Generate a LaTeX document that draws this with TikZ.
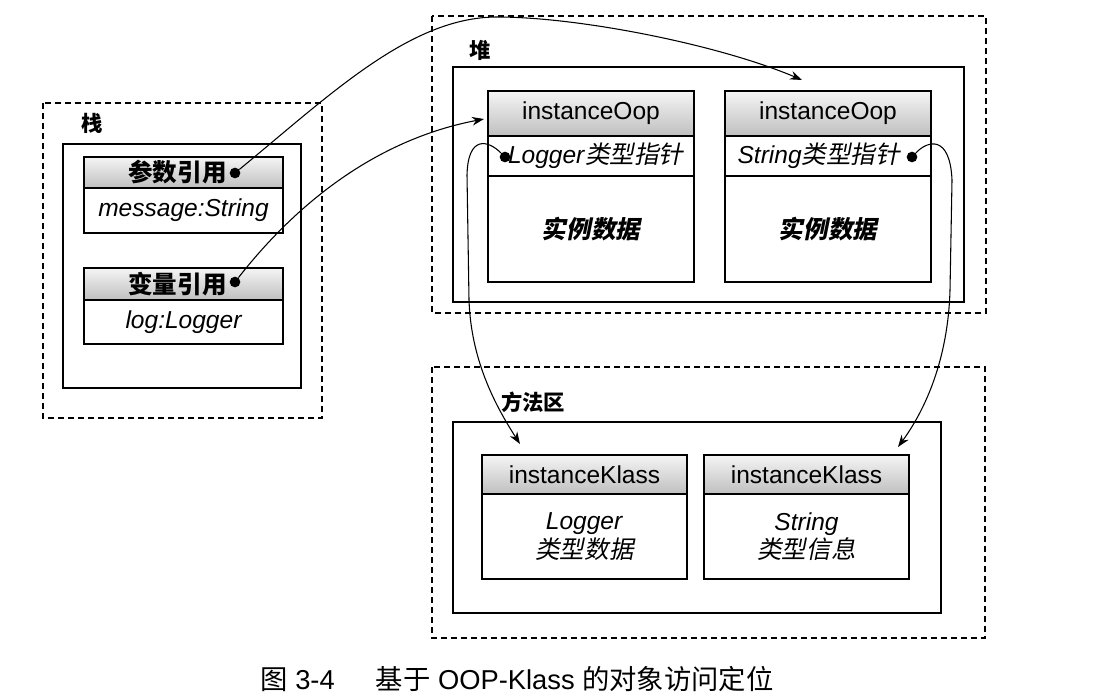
\documentclass[tikz,border=0pt]{standalone}
\usepackage{fontspec}
\setmainfont{Liberation Sans}
\newfontfamily\zh{Noto Sans CJK SC}
\newfontfamily\zhsl[FakeSlant=0.2]{Noto Sans CJK SC}
\usetikzlibrary{arrows.meta}

\newcommand{\boxfont}{\fontsize{18.4}{21.5}\selectfont}

\begin{document}
\begin{tikzpicture}[x=0.75pt,y=0.75pt,yscale=-1,xscale=1,
    region/.style={draw, line width=0.9pt, dash pattern=on 4.5pt off 3pt},
    panel/.style={draw, line width=0.9pt},
    cellbox/.style={draw, line width=0.9pt, anchor=north west, inner sep=0pt, outer sep=0pt, font=\boxfont, align=center},
    hdr/.style={cellbox, top color=gray!8, bottom color=gray!50},
    ptdot/.style={circle, fill=black, inner sep=0pt, minimum size=8pt},
    ref/.style={draw, line width=0.8pt, -{Stealth[length=9pt,width=6.5pt]}},
    tag/.style={font=\zh\bfseries\fontsize{16}{19}\selectfont, anchor=west, inner sep=0pt}]

    \useasboundingbox (0,0) rectangle (1094,696);

    % stack
    \draw[region] (43,103) rectangle (322,418);
    \draw[panel] (63,144) rectangle (301,388);
    \node[tag] (stacktag) at (81,123) {栈};
    \node[hdr, minimum width=149.25pt, minimum height=23.25pt] (arghdr) at (84,157) {\zh\bfseries 参数引用\hspace{9pt}};
    \node[cellbox, minimum width=149.25pt, minimum height=33.75pt] (argcell) at (84,188) {\itshape message:String};
    \node[ptdot] (argdot) at (235,173) {};
    \node[hdr, minimum width=149.25pt, minimum height=24pt] (varhdr) at (84,268) {\zh\bfseries 变量引用\hspace{9pt}};
    \node[cellbox, minimum width=149.25pt, minimum height=33pt] (varcell) at (84,300) {\itshape log:Logger};
    \node[ptdot] (vardot) at (235,282) {};

    % heap
    \draw[region] (432,16) rectangle (986,313);
    \draw[panel] (453,67) rectangle (964,302);
    \node[tag] (heaptag) at (469,50) {堆};
    \node[hdr, minimum width=154.5pt, minimum height=33.75pt] (oophdrL) at (488,91) {instanceOop};
    \node[cellbox, minimum width=154.5pt, minimum height=30pt] (ptrL) at (488,136) {\hspace{7pt}\textit{Logger}{\zhsl 类型指针}};
    \node[cellbox, minimum width=154.5pt, minimum height=79.5pt] (dataL) at (488,176) {\zhsl\bfseries 实例数据};
    \node[ptdot] (ptrdotL) at (505,157) {};
    \node[hdr, minimum width=154.5pt, minimum height=33.75pt] (oophdrR) at (725,91) {instanceOop};
    \node[cellbox, minimum width=154.5pt, minimum height=30pt] (ptrR) at (725,136) {\textit{String}{\zhsl 类型指针}\hspace{14pt}};
    \node[cellbox, minimum width=154.5pt, minimum height=79.5pt] (dataR) at (725,176) {\zhsl\bfseries 实例数据};
    \node[ptdot] (ptrdotR) at (912,157) {};

    % method area
    \draw[region] (432,367) rectangle (985,638);
    \draw[panel] (453,422) rectangle (941,613);
    \node[tag] (methodtag) at (501,402) {方法区};
    \node[hdr, minimum width=153.75pt, minimum height=29.25pt] (klasshdrL) at (482,455) {instanceKlass};
    \node[cellbox, minimum width=153.75pt, minimum height=63.75pt] (klassbodyL) at (482,494) {\textit{Logger}\\{\zhsl 类型数据}};
    \node[hdr, minimum width=153.75pt, minimum height=29.25pt] (klasshdrR) at (704,455) {instanceKlass};
    \node[cellbox, minimum width=153.75pt, minimum height=63.75pt] (klassbodyR) at (704,494) {\textit{String}\\{\zhsl 类型信息}};

    % arrow ends
    \coordinate (oopRin) at (802,80);
    \coordinate (oopLin) at (484,119);
    \coordinate (klassLin) at (520,444);
    \coordinate (klassRin) at (898,447);

    \draw[ref] (argdot) .. controls (330,95) and (410,17) .. (497,17) .. controls (580,17) and (720,45) .. (oopRin);
    \draw[ref] (vardot) .. controls (315,180) and (400,135) .. (oopLin);
    \draw[ref] (ptrdotL) .. controls (488,140) and (468,135) .. (467,175) -- (469,300) .. controls (471,360) and (495,405) .. (klassLin);
    \draw[ref] (ptrdotR) .. controls (928,140) and (950,135) .. (952,180) -- (950,290) .. controls (948,360) and (925,410) .. (klassRin);

    \node[font=\fontsize{20.5}{24}\selectfont, inner sep=0pt] (caption) at (517,679) {{\zh 图} 3-4\hspace{1.5em}{\zh 基于} OOP-Klass {\zh 的对象访问定位}};

\end{tikzpicture}
\end{document}
